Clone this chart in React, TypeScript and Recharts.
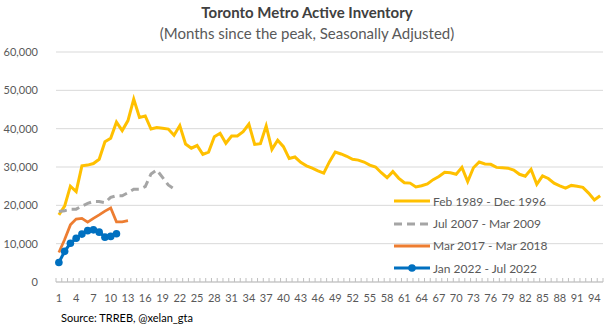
import { LineChart, Line, XAxis, YAxis, CartesianGrid, Legend } from 'recharts';

const months = Array.from({ length: 95 }, (_, i) => i + 1);

const feb1989 = [
  17500, 19800, 25000, 23600, 30300, 30500, 30900, 32000, 36600, 37500,
  41700, 39500, 42100, 47700, 42900, 43300, 39900, 40300, 40100, 39900,
  38300, 40800, 36000, 34900, 35600, 33300, 33900, 37900, 38800, 36200,
  38100, 38100, 39200, 41200, 35900, 36100, 40700, 34600, 37000, 35300,
  32200, 32600, 31200, 30300, 29700, 29000, 28400, 31400, 33900, 33400,
  32800, 32000, 31800, 31300, 30500, 30000, 28500, 27200, 28800, 27100,
  25900, 25800, 24800, 25100, 25600, 26700, 27500, 28600, 28500, 28100,
  29900, 26200, 29800, 31300, 30800, 30700, 29900, 29800, 29700, 29200,
  28100, 27600, 29400, 25500, 27700, 27000, 25800, 25100, 24500, 25200,
  25000, 24700, 23200, 21400, 22500,
];

const jul2007 = [
  18400, 18600, 19000, 19000, 19800, 20500, 21000, 21000, 20700, 22100,
  22500, 22500, 23300, 24200, 24200, 24900, 28200, 29200, 27300, 25300,
  24300,
];

const mar2017 = [7700, 11100, 14900, 16400, 16600, 15600, 16600, 17500, 18500, 19300, 15700, 15700, 16000];

const jan2022 = [5100, 8000, 10100, 11400, 12500, 13400, 13600, 13000, 11700, 11900, 12600];

const yTicks = [0, 10000, 20000, 30000, 40000, 50000, 60000];

const series = [
  { key: 'feb89', name: 'Feb 1989 - Dec 1996', color: '#FFC000', dash: undefined, dot: false, width: 3 },
  { key: 'jul07', name: 'Jul 2007 - Mar 2009', color: '#A5A5A5', dash: '8 5', dot: false, width: 3 },
  { key: 'mar17', name: 'Mar 2017 - Mar 2018', color: '#ED7D31', dash: undefined, dot: false, width: 2.75 },
  { key: 'jan22', name: 'Jan 2022 - Jul 2022', color: '#0070C0', dash: undefined, dot: true, width: 3 },
];

const data = months.map((m, i) => ({
  month: m,
  feb89: feb1989[i],
  jul07: jul2007[i],
  mar17: mar2017[i],
  jan22: jan2022[i],
}));

const font = 'Lato, "Liberation Sans", Arial, sans-serif';
const half = 2.88;

const MonthTick = (props: any) => {
  const { x, y, payload, index } = props;
  return (
    <g>
      <line x1={x - half} x2={x - half} y1={y - 4} y2={y} stroke="#bfbfbf" />
      {index === months.length - 1 && <line x1={x + half} x2={x + half} y1={y - 4} y2={y} stroke="#bfbfbf" />}
      {index % 3 === 0 && (
        <text x={x} y={y + 20} textAnchor="middle" fontSize={11} fill="#595959" fontFamily={font}>
          {payload.value}
        </text>
      )}
    </g>
  );
};

const renderLegend = () => (
  <div style={{ fontFamily: font, fontSize: 12, color: '#595959' }}>
    {series.map((s) => (
      <div key={s.key} style={{ height: 22.4, display: 'flex', alignItems: 'center' }}>
        <svg width={38} height={10} style={{ marginRight: 1 }}>
          <line x1={0} x2={36} y1={5} y2={5} stroke={s.color} strokeWidth={3} strokeDasharray={s.dash} />
          {s.dot && <circle cx={18} cy={5} r={3.8} fill={s.color} />}
        </svg>
        <span>{s.name}</span>
      </div>
    ))}
  </div>
);

export default function App() {
  return (
    <div style={{ position: 'absolute', left: 0, top: 0, width: 614, height: 333, background: '#fff', fontFamily: font }}>
      <div style={{ position: 'absolute', top: 3, width: 614, textAlign: 'center', fontSize: 15, fontWeight: 700, color: '#404040' }}>
        Toronto Metro Active Inventory
      </div>
      <div style={{ position: 'absolute', top: 24, width: 614, textAlign: 'center', fontSize: 15, color: '#595959' }}>
        (Months since the peak, Seasonally Adjusted)
      </div>
      <LineChart width={614} height={333} data={data} margin={{ top: 52, right: 11, left: 0, bottom: 0 }}>
        <CartesianGrid vertical={false} stroke="#d9d9d9" />
        <XAxis
          dataKey="month"
          interval={0}
          height={51}
          padding={{ left: half, right: half }}
          tickLine={false}
          tickSize={0}
          tickMargin={0}
          stroke="#bfbfbf"
          tick={<MonthTick />}
        />
        <YAxis
          width={56}
          domain={[0, 60000]}
          ticks={yTicks}
          axisLine={false}
          tickLine={false}
          tickSize={0}
          tickMargin={18}
          tick={{ fontSize: 11, fill: '#595959', fontFamily: font }}
          tickFormatter={(v: number) => v.toLocaleString('en-US')}
        />
        <Legend
          layout="horizontal"
          verticalAlign="middle"
          align="center"
          content={renderLegend}
          wrapperStyle={{ position: 'absolute', left: 394, top: 190, width: 200 }}
        />
        {series.map((s) => (
          <Line
            key={s.key}
            dataKey={s.key}
            name={s.name}
            stroke={s.color}
            strokeWidth={s.width}
            strokeDasharray={s.dash}
            dot={s.dot ? { r: 3.8, fill: s.color, stroke: s.color, strokeWidth: 0 } : false}
            activeDot={false}
            isAnimationActive={false}
          />
        ))}
      </LineChart>
      <div style={{ position: 'absolute', left: 61, top: 311, fontSize: 11, color: '#000' }}>
        Source: TRREB, @xelan_gta
      </div>
    </div>
  );
}
